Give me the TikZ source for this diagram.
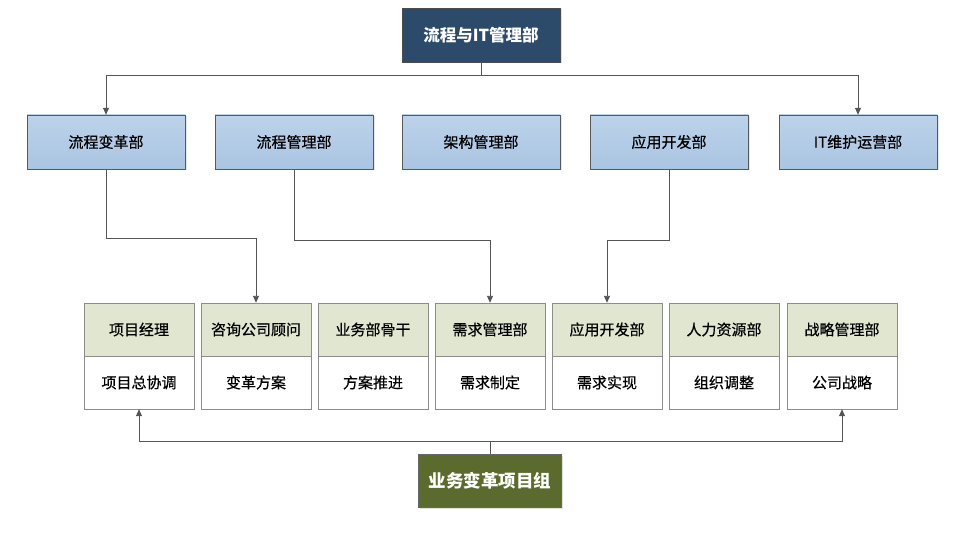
\documentclass[tikz,border=0pt]{standalone}
\usepackage{fontspec}
\newfontfamily\cjk{Noto Sans CJK SC}
\newfontfamily\cjkm{Noto Sans CJK SC}[FakeBold=0.5]
\usetikzlibrary{arrows.meta,shadows}
\definecolor{topblue}{HTML}{2C4A6A}
\definecolor{midblue}{HTML}{AAC5E2}
\definecolor{midblueT}{HTML}{BCD2EA}
\definecolor{lgreen}{HTML}{E0E6D0}
\definecolor{dgreen}{HTML}{5B6B2D}
\definecolor{lineg}{HTML}{555555}
\tikzset{
  every node/.style={font=\cjk},
  topbox/.style={draw=black!70, fill=topblue, text=white, minimum width=158pt, minimum height=54pt, inner sep=0pt, font=\cjk\fontsize{16.5}{19}\selectfont\bfseries, drop shadow={opacity=0.25,shadow xshift=1.5pt,shadow yshift=-1.5pt}},
  deptbox/.style={draw=black!65, top color=midblueT, bottom color=midblue, minimum width=158pt, minimum height=54pt, inner sep=0pt, font=\cjkm\fontsize{15}{18}\selectfont, drop shadow={opacity=0.2,shadow xshift=1.5pt,shadow yshift=-1.5pt}},
  rolebox/.style={draw=black!45, fill=lgreen, minimum width=110pt, minimum height=53pt, inner sep=0pt, font=\cjkm\fontsize{15}{18}\selectfont},
  taskbox/.style={draw=black!45, fill=white, minimum width=110pt, minimum height=53pt, inner sep=0pt, font=\cjkm\fontsize{15}{18}\selectfont},
  grpbox/.style={draw=black!60, fill=dgreen, text=white, minimum width=143pt, minimum height=53pt, inner sep=0pt, font=\cjk\fontsize{17.5}{20}\selectfont\bfseries, drop shadow={opacity=0.25,shadow xshift=1.5pt,shadow yshift=-1.5pt}},
  conn/.style={draw=lineg, line width=0.9pt},
  arr/.style={conn, -{Triangle[length=7pt,width=6pt]}},
}
\begin{document}
\begin{tikzpicture}[x=1pt,y=-1pt]
\useasboundingbox (0,0) rectangle (956,540);
\node[topbox] (top) at (481,35) {流程与IT管理部};
\node[deptbox] (d1) at (106,142) {流程变革部};
\node[deptbox] (d2) at (294,142) {流程管理部};
\node[deptbox] (d3) at (481,142) {架构管理部};
\node[deptbox] (d4) at (669,142) {应用开发部};
\node[deptbox] (d5) at (858,142) {IT维护运营部};

\foreach \n/\x/\r/\t in {a/139/项目经理/项目总协调, b/256/咨询公司顾问/变革方案, c/373/业务部骨干/方案推进, d/490/需求管理部/需求制定, e/607/应用开发部/需求实现, f/724/人力资源部/组织调整, g/842/战略管理部/公司战略}{
  \node[rolebox] (r\n) at (\x,329.5) {\r};
  \node[taskbox] (t\n) at (\x,382.5) {\t};
}
\node[grpbox] (grp) at (490,481) {业务变革项目组};

\coordinate (tj) at (481,75);
\draw[conn] (top.south) -- (tj);
\draw[arr] (tj) -| (d1.north);
\draw[arr] (tj) -| (d5.north);

\coordinate (c1) at (106,238);
\draw[arr] (d1.south) -- (c1) -| (rb.north);
\coordinate (c2) at (294,240);
\draw[arr] (d2.south) -- (c2) -| (rd.north);
\coordinate (c4) at (669,240);
\draw[arr] (d4.south) -- (c4) -| (re.north);

\coordinate (bj) at (490,441);
\draw[conn] (grp.north) -- (bj);
\draw[arr] (bj) -| (ta.south);
\draw[arr] (bj) -| (tg.south);
\end{tikzpicture}
\end{document}
